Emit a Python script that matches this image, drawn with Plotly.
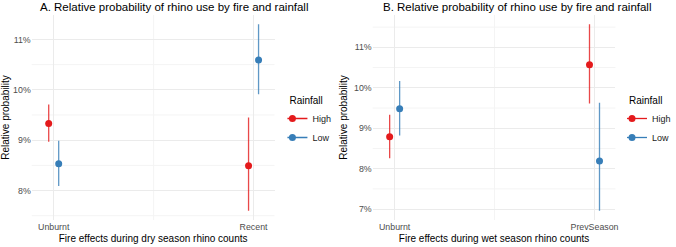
import plotly.graph_objects as go

# ---- data (relative probability, %) ----
cats_a = ["Unburnt", "Recent"]
cats_b = ["Unburnt", "PrevSeason"]
rain_levels = ["High", "Low"]

a_high = [9.33, 8.49]
a_high_lo = [8.97, 7.60]
a_high_hi = [9.71, 9.45]
a_low = [8.53, 10.59]
a_low_lo = [8.09, 9.91]
a_low_hi = [8.99, 11.30]

b_high = [8.79, 10.57]
b_high_lo = [8.26, 9.61]
b_high_hi = [9.33, 11.57]
b_low = [9.48, 8.19]
b_low_lo = [8.82, 6.96]
b_low_hi = [10.17, 9.63]

yticks_a = [8, 9, 10, 11]
yticks_b = [7, 8, 9, 10, 11]
ytext_a = ["8%", "9%", "10%", "11%"]
ytext_b = ["7%", "8%", "9%", "10%", "11%"]
yminor_a = [7.5, 8.5, 9.5, 10.5]
yminor_b = [7.5, 8.5, 9.5, 10.5, 11.5]
xminor = [0.5]

colors = {"High": "#E41A1C", "Low": "#377EB8"}
bar_colors = {"High": "rgba(228,26,28,0.8)", "Low": "rgba(55,126,184,0.8)"}
FONT = "Liberation Sans, Arial, sans-serif"
W, H = 676, 247

fig = go.Figure()

dodge = {"High": -0.025, "Low": 0.025}

def add_panel(xa, ya, cats, series, legend_name):
    for lvl, (y, lo, hi) in zip(rain_levels, series):
        xs = [i + dodge[lvl] for i in range(len(cats))]
        fig.add_trace(go.Scatter(
            x=xs, y=y, mode="markers", xaxis=xa, yaxis=ya,
            marker=dict(color=colors[lvl], size=7),
            error_y=dict(type="data", symmetric=False,
                         array=[h - v for h, v in zip(hi, y)],
                         arrayminus=[v - l for v, l in zip(y, lo)],
                         color=bar_colors[lvl], thickness=1.3, width=0),
            showlegend=False, hoverinfo="skip"))
    for lvl in rain_levels:
        fig.add_trace(go.Scatter(
            x=[None], y=[None], mode="lines+markers", xaxis=xa, yaxis=ya,
            name=lvl, legend=legend_name,
            marker=dict(color=colors[lvl], size=7),
            line=dict(color=colors[lvl], width=1.3)))

add_panel("x", "y", cats_a,
          [(a_high, a_high_lo, a_high_hi), (a_low, a_low_lo, a_low_hi)], "legend")
add_panel("x2", "y2", cats_b,
          [(b_high, b_high_lo, b_high_hi), (b_low, b_low_lo, b_low_hi)], "legend2")

ydom = [1 - 220 / H, 1 - 15 / H]
grid_major = "#EBEBEB"
grid_minor = "#F4F4F4"
tickfont = dict(family=FONT, size=8.8, color="#4D4D4D")
titlefont = dict(family=FONT, size=10, color="#000000")

def xaxis_def(dom, cats, title):
    return dict(domain=dom, range=[-0.11, 1.105], tickvals=list(range(len(cats))),
                ticktext=cats, showgrid=True, gridcolor=grid_major, gridwidth=1,
                zeroline=False, showline=False, ticks="", tickfont=tickfont,
                title=dict(text=title, font=titlefont, standoff=4), automargin=False)

def yaxis_def(dom, rng, ticks, text, anchor):
    return dict(domain=dom, range=rng, tickvals=ticks, ticktext=text,
                showgrid=True, gridcolor=grid_major, gridwidth=1, zeroline=False,
                showline=False, ticks="", tickfont=tickfont, anchor=anchor,
                title=dict(text="Relative probability", font=titlefont, standoff=4),
                automargin=False)

# minor gridlines (theme grid, not data)
shapes = []
for xr, yr, ym in (("x", "y", yminor_a), ("x2", "y2", yminor_b)):
    for v in ym:
        shapes.append(dict(type="line", xref=xr + " domain", yref=yr, x0=0, x1=1,
                           y0=v, y1=v, line=dict(color=grid_minor, width=1), layer="below"))
    for v in xminor:
        shapes.append(dict(type="line", xref=xr, yref=yr + " domain", x0=v, x1=v,
                           y0=0, y1=1, line=dict(color=grid_minor, width=1), layer="below"))

legend_common = dict(font=dict(family=FONT, size=9, color="#1A1A1A"),
                     bgcolor="rgba(0,0,0,0)", yanchor="top", xanchor="left",
                     indentation=-15, tracegroupgap=0)

fig.update_layout(
    width=W, height=H, margin=dict(l=0, r=0, t=0, b=0),
    paper_bgcolor="white", plot_bgcolor="white",
    font=dict(family=FONT),
    xaxis=xaxis_def([32 / W, 277 / W], cats_a, "Fire effects during dry season rhino counts"),
    yaxis=yaxis_def(ydom, [7.415, 11.485], yticks_a, ytext_a, "x"),
    xaxis2=xaxis_def([376 / W, 621 / W], cats_b, "Fire effects during wet season rhino counts"),
    yaxis2=yaxis_def(ydom, [6.73, 11.8], yticks_b, ytext_b, "x2"),
    shapes=shapes,
    legend=dict(x=290 / W, y=1 - 91 / H,
                title=dict(text="Rainfall", font=dict(family=FONT, size=10, color="#000")),
                **legend_common),
    legend2=dict(x=633 / W, y=1 - 91 / H,
                 title=dict(text="Rainfall", font=dict(family=FONT, size=10, color="#000")),
                 **legend_common),
    annotations=[
        dict(text="A. Relative probability of rhino use by fire and rainfall",
             xref="paper", yref="paper", x=38 / W, y=1 - 7 / H, xanchor="left",
             yanchor="middle", showarrow=False,
             font=dict(family=FONT, size=11.5, color="#000")),
        dict(text="B. Relative probability of rhino use by fire and rainfall",
             xref="paper", yref="paper", x=384 / W, y=1 - 7 / H, xanchor="left",
             yanchor="middle", showarrow=False,
             font=dict(family=FONT, size=11.5, color="#000")),
    ],
)

fig.write_html("out.html")
